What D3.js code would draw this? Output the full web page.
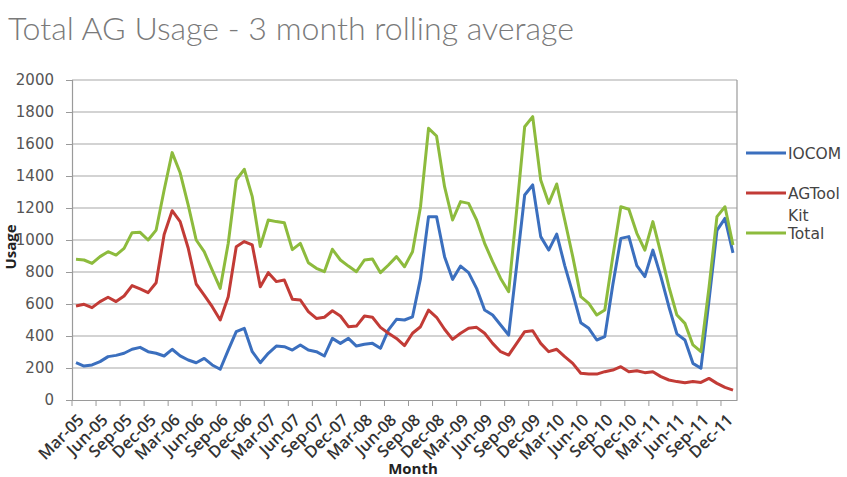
<!DOCTYPE html>
<html>
<head>
<meta charset="utf-8">
<script src="https://cdn.jsdelivr.net/npm/d3@7"></script>
<style>
  body { margin: 0; background: #fff; }
</style>
</head>
<body>
<div id="chart"></div>
<script>
// monthly categories, Mar-05 .. Jan-12
const months = d3.timeMonth.range(new Date(2005, 2, 1), new Date(2012, 1, 1));
const fmt = d3.timeFormat("%b-%y");
const monthLabels = months.map(fmt);
const tickLabels = monthLabels.filter((d, i) => i % 3 == 0 && i < 82);

const iocom = [233,212,219,240,271,279,292,317,329,302,292,275,317,276,250,233,260,219,192,312,
  427,448,302,233,292,337,333,312,344,312,302,275,385,354,385,337,348,354,323,438,
  504,500,520,760,1146,1146,896,754,837,796,698,562,531,469,406,840,1281,1344,1021,937,
  1037,840,667,483,448,375,396,720,1010,1021,840,771,937,771,583,413,375,229,198,620,
  1060,1135,920];
const agtoolkit = [587,598,577,615,642,615,650,715,694,671,733,1035,1183,1115,950,725,656,583,500,646,
  958,990,969,708,796,740,750,630,625,552,510,517,558,525,458,462,525,517,454,417,
  385,340,417,458,562,517,442,379,417,448,454,417,354,302,281,354,427,433,354,302,
  317,271,229,167,162,162,177,187,208,177,183,171,177,146,125,115,108,115,110,135,
  104,79,62];
const total = [879,875,854,896,927,906,948,1046,1048,1000,1062,1312,1546,1420,1220,1000,927,812,698,980,
  1375,1442,1271,960,1125,1115,1108,940,979,858,823,802,942,875,837,802,875,881,796,844,
  896,833,927,1208,1698,1650,1333,1125,1240,1229,1125,979,865,760,677,1187,1708,1771,1375,1229,
  1350,1125,896,646,604,531,562,896,1208,1192,1042,937,1115,917,708,531,479,344,302,700,
  1146,1208,969];
const yTicks = [0,200,400,600,800,1000,1200,1400,1600,1800,2000];

const seriesNames = ["IOCOM", "AGTool Kit", "Total"];
const seriesColors = ["#3b6fbe", "#c23b36", "#8dbb3d"];
const series = [iocom, agtoolkit, total];

const width = 847, height = 477;
const margin = {left: 72, top: 80, right: 110, bottom: 77};
const plotW = width - margin.left - margin.right;
const plotH = height - margin.top - margin.bottom;

const svg = d3.select("#chart").append("svg")
  .attr("width", width)
  .attr("height", height);

svg.append("text")
  .attr("x", 8).attr("y", 40)
  .attr("font-family", "Lato, 'Open Sans', sans-serif")
  .attr("font-weight", 300)
  .attr("font-size", 31)
  .attr("fill", "#7a7a7a")
  .attr("textLength", 566)
  .attr("lengthAdjust", "spacingAndGlyphs")
  .text("Total AG Usage - 3 month rolling average");

const g = svg.append("g").attr("transform", "translate(" + margin.left + "," + margin.top + ")");

const x = d3.scaleBand().domain(monthLabels).range([0, plotW]);
const bw = x.bandwidth();
const y = d3.scaleLinear().domain([0, 2000]).range([plotH, 0]);

// gridlines
g.append("g").selectAll("line").data(yTicks.slice(1)).enter().append("line")
  .attr("x1", 0).attr("x2", plotW)
  .attr("y1", d => y(d)).attr("y2", d => y(d))
  .attr("stroke", "#c4c4c4").attr("stroke-width", 1.6);

// right border
g.append("line").attr("x1", plotW).attr("x2", plotW).attr("y1", 0).attr("y2", plotH)
  .attr("stroke", "#9a9a9a").attr("stroke-width", 1.2);

// y axis
const yAxis = g.append("g").call(d3.axisLeft(y).tickValues(yTicks).tickFormat(d3.format("d")).tickSize(6).tickPadding(12));
yAxis.select(".domain").attr("stroke", "#9a9a9a").attr("stroke-width", 1.2);
yAxis.selectAll(".tick line").attr("stroke", "#9a9a9a");
yAxis.selectAll("text")
  .attr("font-family", "'DejaVu Sans', sans-serif")
  .attr("font-size", 15)
  .attr("fill", "#555");

// x axis
const xAxis = g.append("g").attr("transform", "translate(0," + plotH + ")")
  .call(d3.axisBottom(x).tickValues(tickLabels).tickSize(6).tickSizeOuter(0));
xAxis.select(".domain").attr("stroke", "#9a9a9a").attr("stroke-width", 1.2);
xAxis.selectAll(".tick line").attr("stroke", "#9a9a9a").attr("x1", -bw / 2).attr("x2", -bw / 2);
xAxis.selectAll("text")
  .attr("font-family", "'Open Sans', sans-serif")
  .attr("font-weight", 600)
  .attr("font-size", 16.5)
  .attr("fill", "#333")
  .attr("text-anchor", "end")
  .attr("y", 0).attr("dy", 0)
  .attr("transform", "translate(9,21) rotate(-45)");

// lines
const line = d3.line()
  .x((d, i) => x(monthLabels[i]) + bw / 2)
  .y(d => y(d));

g.append("g").selectAll("path").data(series).enter().append("path")
  .attr("d", d => line(d))
  .attr("fill", "none")
  .attr("stroke", (d, i) => seriesColors[i])
  .attr("stroke-width", 3)
  .attr("stroke-linejoin", "round");

// axis titles
svg.append("text")
  .attr("transform", "translate(16,247) rotate(-90)")
  .attr("text-anchor", "middle")
  .attr("font-family", "'Open Sans', sans-serif")
  .attr("font-weight", 700)
  .attr("font-size", 15)
  .attr("fill", "#222")
  .text("Usage");

svg.append("text")
  .attr("x", 413).attr("y", 474)
  .attr("text-anchor", "middle")
  .attr("font-family", "'Open Sans', sans-serif")
  .attr("font-weight", 700)
  .attr("font-size", 15)
  .attr("fill", "#222")
  .text("Month");

// legend
const legendY = [153, 193, 233];
const legend = svg.append("g");
legend.selectAll("line").data(seriesNames).enter().append("line")
  .attr("x1", 746).attr("x2", 786)
  .attr("y1", (d, i) => legendY[i]).attr("y2", (d, i) => legendY[i])
  .attr("stroke", (d, i) => seriesColors[i])
  .attr("stroke-width", 3);
legend.selectAll("text").data(seriesNames).enter().append("text")
  .attr("x", 788)
  .attr("y", (d, i) => legendY[i] + 5.5)
  .attr("font-family", "'DejaVu Sans', sans-serif")
  .attr("font-size", 15.5)
  .attr("fill", "#444")
  .each(function(d) {
    const parts = d.split(" ");
    const t = d3.select(this);
    parts.forEach((p, k) => {
      t.append("tspan").attr("x", 788).attr("dy", k == 0 ? 0 : 22).text(p);
    });
  });
</script>
</body>
</html>
